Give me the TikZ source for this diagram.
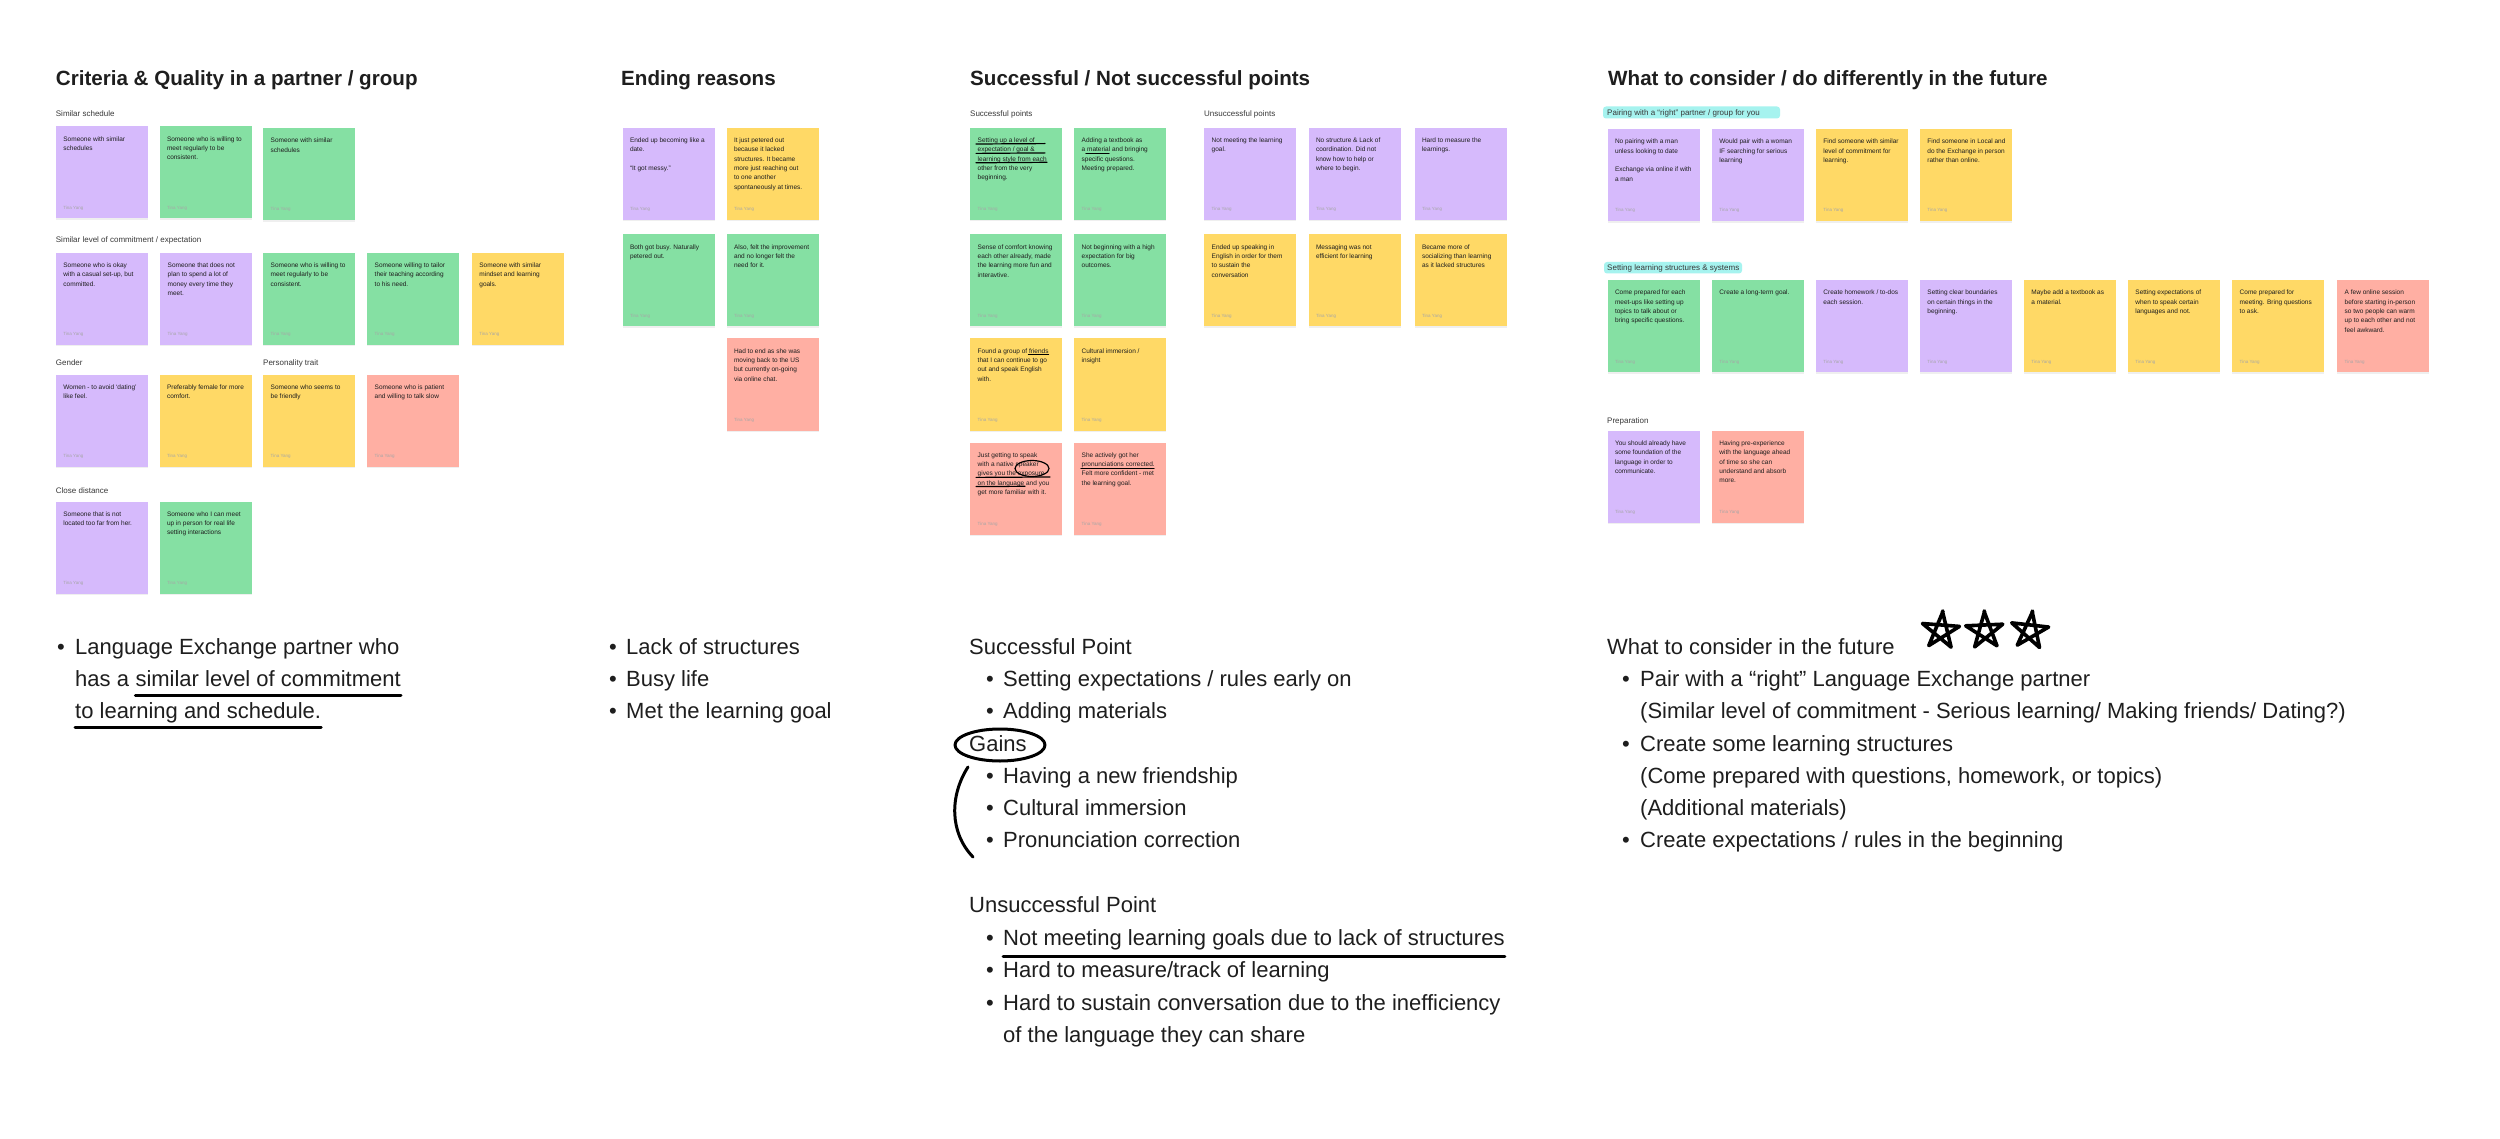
\documentclass[tikz,border=0pt]{standalone}
\usepackage{fontspec}
\setmainfont{Liberation Sans}
\usetikzlibrary{shadows,calc}
\definecolor{stviolet}{HTML}{D6BAFC}
\definecolor{stgreen}{HTML}{85E0A3}
\definecolor{styellow}{HTML}{FFD966}
\definecolor{stred}{HTML}{FFAFA3}
\definecolor{hlcyan}{HTML}{A6F3EF}
\definecolor{inkdark}{HTML}{1E1E1E}
\newcommand\stickynote[5]{%
  \node[sticky,fill=#4] (#1) at (#2,#3) {};
  \node[notetext] (#1t) at ([xshift=7.5pt,yshift=-10pt]#1.north west) {#5};
  \node[noteauthor] (#1a) at ([xshift=7.5pt,yshift=-83pt]#1.north west) {Tina Yang};
}
\begin{document}
\begin{tikzpicture}[x=1pt,y=-1pt,
  sticky/.style={rectangle,minimum width=92pt,minimum height=92pt,inner sep=0pt,anchor=north west,
    drop shadow={shadow xshift=0pt,shadow yshift=-1.5pt,opacity=0.12}},
  notetext/.style={anchor=north west,inner sep=0pt,align=left,font=\fontsize{6.5}{9.3}\selectfont,text=inkdark},
  noteauthor/.style={anchor=base west,inner sep=0pt,font=\fontsize{4.5}{5}\selectfont,text=black!35},
  sectitle/.style={anchor=base west,inner sep=0pt,font=\fontsize{20.6}{24}\selectfont\bfseries,text=inkdark},
  grplabel/.style={anchor=base west,inner sep=0pt,font=\fontsize{8}{9}\selectfont,text=black!78},
  body/.style={anchor=base west,inner sep=0pt,font=\fontsize{22}{26}\selectfont,text=inkdark},
  bul/.style={anchor=base west,inner sep=0pt,font=\fontsize{22}{26}\selectfont,text=inkdark},
  ink/.style={line width=1.2pt,black,line cap=round,line join=round},
  thickink/.style={line width=3pt,black,line cap=round,line join=round},
]
\useasboundingbox (0,0) rectangle (2500,1139);
\fill[white] (0,0) rectangle (2500,1139);

% ---------- titles ----------
\node[sectitle] (t1) at (55.7,86) {Criteria \& Quality in a partner / group};
\node[sectitle] (t2) at (621,86) {Ending reasons};
\node[sectitle] (t3) at (970,86) {Successful / Not successful points};
\node[sectitle] (t4) at (1608,86) {What to consider / do differently in the future};

% ---------- Criteria ----------
\node[grplabel] (l1) at (55.7,117) {Similar schedule};
\stickynote{a1}{55.7}{126.3}{stviolet}{Someone with similar\\schedules}
\stickynote{a2}{159.3}{126.3}{stgreen}{Someone who is willing to\\meet regularly to be\\consistent.}
\stickynote{a3}{263}{128}{stgreen}{Someone with similar\\schedules}

\node[grplabel] (l2) at (55.7,243) {Similar level of commitment / expectation};
\stickynote{a4}{55.7}{252.7}{stviolet}{Someone who is okay\\with a casual set-up, but\\committed.}
\stickynote{a5}{160}{252.7}{stviolet}{Someone that does not\\plan to spend a lot of\\money every time they\\meet.}
\stickynote{a6}{263}{252.7}{stgreen}{Someone who is willing to\\meet regularly to be\\consistent.}
\stickynote{a7}{367}{252.7}{stgreen}{Someone willing to tailor\\their teaching according\\to his need.}
\stickynote{a8}{471.7}{252.7}{styellow}{Someone with similar\\mindset and learning\\goals.}

\node[grplabel] (l3) at (55.7,366) {Gender};
\node[grplabel] (l4) at (263,366) {Personality trait};
\stickynote{a9}{55.7}{374.7}{stviolet}{Women - to avoid `dating'\\like feel.}
\stickynote{a10}{159.3}{374.7}{styellow}{Preferably female for more\\comfort.}
\stickynote{a11}{263}{374.7}{styellow}{Someone who seems to\\be friendly}
\stickynote{a12}{367}{374.7}{stred}{Someone who is patient\\and willing to talk slow}

\node[grplabel] (l5) at (55.7,493) {Close distance};
\stickynote{a13}{55.7}{501.3}{stviolet}{Someone that is not\\located too far from her.}
\stickynote{a14}{159.3}{501.3}{stgreen}{Someone who I can meet\\up in person for real life\\setting interactions}

% ---------- Ending reasons ----------
\stickynote{e1}{622.3}{127.7}{stviolet}{Ended up becoming like a\\date.\\[9.3pt]``It got messy.''}
\stickynote{e2}{726.3}{127.7}{styellow}{It just petered out\\because it lacked\\structures. It became\\more just reaching out\\to one another\\spontaneously at times.}
\stickynote{e3}{622.3}{234.3}{stgreen}{Both got busy. Naturally\\petered out.}
\stickynote{e4}{726.3}{234.3}{stgreen}{Also, felt the improvement\\and no longer felt the\\need for it.}
\stickynote{e5}{726.3}{338.3}{stred}{Had to end as she was\\moving back to the US\\but currently on-going\\via online chat.}

% ---------- Successful / Not ----------
\node[grplabel] (l6) at (970,117) {Successful points};
\node[grplabel] (l7) at (1204,117) {Unsuccessful points};
\stickynote{s1}{970}{127.7}{stgreen}{Setting up a level of\\expectation / goal \&\\learning style from each\\other from the very\\beginning.}
\stickynote{s2}{1074}{127.7}{stgreen}{Adding a textbook as\\a material and bringing\\specific questions.\\Meeting prepared.}
\stickynote{s3}{970}{234.3}{stgreen}{Sense of comfort knowing\\each other already, made\\the learning more fun and\\interavtive.}
\stickynote{s4}{1074}{234.3}{stgreen}{Not beginning with a high\\expectation for big\\outcomes.}
\stickynote{s5}{970}{338.3}{styellow}{Found a group of friends\\that I can continue to go\\out and speak English\\with.}
\stickynote{s6}{1074}{338.3}{styellow}{Cultural immersion /\\insight}
\stickynote{s7}{970}{442.3}{stred}{Just getting to speak\\with a native speaker\\gives you the exposure\\on the language and you\\get more familiar with it.}
\stickynote{s8}{1074}{442.3}{stred}{She actively got her\\pronunciations corrected.\\Felt more confident - met\\the learning goal.}

\stickynote{u1}{1204}{127.7}{stviolet}{Not meeting the learning\\goal.}
\stickynote{u2}{1308.3}{127.7}{stviolet}{No structure \& Lack of\\coordination. Did not\\know how to help or\\where to begin.}
\stickynote{u3}{1414.3}{127.7}{stviolet}{Hard to measure the\\learnings.}
\stickynote{u4}{1204}{234.3}{styellow}{Ended up speaking in\\English in order for them\\to sustain the\\conversation}
\stickynote{u5}{1308.3}{234.3}{styellow}{Messaging was not\\efficient for learning}
\stickynote{u6}{1414.3}{234.3}{styellow}{Became more of\\socializing than learning\\as it lacked structures}

% hand-drawn marks on notes
\draw[ink] (976,144) -- (1045,143.6);
\draw[ink] (976,153.4) -- (1045,152.9);
\draw[ink] (976,162.8) -- (1047,162.3);
\draw[ink] (1086,153.6) -- (1109,153.6);
\draw[ink] (1028.5,354.6) -- (1048.5,354.6);
\draw[ink] (976,477.4) -- (1050,477);
\draw[ink] (976,486.6) -- (1025,486.3);
\draw[ink] (1032,468.5) ellipse [x radius=17pt, y radius=8pt];
\draw[ink] (1081,468.2) -- (1154,468.2);

% ---------- What to consider ----------
\fill[hlcyan, rounded corners=3pt] (1603,106.5) rectangle (1780,118.5);
\node[grplabel] (l8) at (1607,116) {Pairing with a ``right'' partner / group for you};
\stickynote{f1}{1607.3}{129}{stviolet}{No pairing with a man\\unless looking to date\\[9.3pt]Exchange via online if with\\a man}
\stickynote{f2}{1711.7}{129}{stviolet}{Would pair with a woman\\IF searching for serious\\learning}
\stickynote{f3}{1815.7}{129}{styellow}{Find someone with similar\\level of commitment for\\learning.}
\stickynote{f4}{1919.7}{129}{styellow}{Find someone in Local and\\do the Exchange in person\\rather than online.}

\fill[hlcyan, rounded corners=3pt] (1604,262) rectangle (1742,273.5);
\node[grplabel] (l9) at (1607,270.5) {Setting learning structures \& systems};
\stickynote{g1}{1607.3}{280}{stgreen}{Come prepared for each\\meet-ups like setting up\\topics to talk about or\\bring specific questions.}
\stickynote{g2}{1711.7}{280}{stgreen}{Create a long-term goal.}
\stickynote{g3}{1815.7}{280}{stviolet}{Create homework / to-dos\\each session.}
\stickynote{g4}{1919.7}{280}{stviolet}{Setting clear boundaries\\on certain things in the\\beginning.}
\stickynote{g5}{2023.7}{280}{styellow}{Maybe add a textbook as\\a material.}
\stickynote{g6}{2127.7}{280}{styellow}{Setting expectations of\\when to speak certain\\languages and not.}
\stickynote{g7}{2232}{280}{styellow}{Come prepared for\\meeting. Bring questions\\to ask.}
\stickynote{g8}{2337}{280}{stred}{A few online session\\before starting in-person\\so two people can warm\\up to each other and not\\feel awkward.}

\node[grplabel] (l10) at (1607,423) {Preparation};
\stickynote{p1}{1607.3}{430.7}{stviolet}{You should already have\\some foundation of the\\language in order to\\communicate.}
\stickynote{p2}{1711.7}{430.7}{stred}{Having pre-experience\\with the language ahead\\of time so she can\\understand and absorb\\more.}

% ---------- bottom summary: criteria ----------
\node[bul] (c0b) at (57,654) {•};
\node[body] (c1) at (75,654) {Language Exchange partner who};
\node[body] (c2a) at (75,686) {has a};
\node[body, anchor=base west] (c2b) at ([xshift=6.1pt]c2a.base east) {similar level of commitment};
\node[body] (c3) at (75,718) {to learning and schedule.};
\draw[thickink] ([yshift=-9pt]c2b.base west) -- ([yshift=-9pt]c2b.base east);
\draw[thickink] ([yshift=-9pt]c3.base west) -- ([yshift=-9pt]c3.base east);

% ---------- bottom summary: ending ----------
\node[bul] (d1b) at (609,654) {•};
\node[body] (d1) at (626,654) {Lack of structures};
\node[bul] (d2b) at (609,686) {•};
\node[body] (d2) at (626,686) {Busy life};
\node[bul] (d3b) at (609,718) {•};
\node[body] (d3) at (626,718) {Met the learning goal};

% ---------- bottom summary: successful ----------
\node[body] (sp) at (969,654) {Successful Point};
\node[bul] (sp1b) at (986,686) {•};
\node[body] (sp1) at (1003,686) {Setting expectations / rules early on};
\node[bul] (sp2b) at (986,718) {•};
\node[body] (sp2) at (1003,718) {Adding materials};
\node[body] (gains) at (969,751) {Gains};
\draw[thickink] (1000,745) ellipse [x radius=45pt, y radius=16pt];
\node[bul] (gn1b) at (986,783) {•};
\node[body] (gn1) at (1003,783) {Having a new friendship};
\node[bul] (gn2b) at (986,815) {•};
\node[body] (gn2) at (1003,815) {Cultural immersion};
\node[bul] (gn3b) at (986,847) {•};
\node[body] (gn3) at (1003,847) {Pronunciation correction};
\coordinate (brA) at (968,767);
\coordinate (brB) at (973,857);
\draw[thickink] (brA) .. controls (950,795) and (949,832) .. (brB);
\node[body] (up) at (969,912) {Unsuccessful Point};
\node[bul] (up1b) at (986,945) {•};
\node[body] (up1) at (1003,945) {Not meeting learning goals due to lack of structures};
\draw[thickink] ([yshift=-11pt]up1.base west) -- ([yshift=-11pt]up1.base east);
\node[bul] (up2b) at (986,977) {•};
\node[body] (up2) at (1003,977) {Hard to measure/track of learning};
\node[bul] (up3b) at (986,1010) {•};
\node[body] (up3) at (1003,1010) {Hard to sustain conversation due to the inefficiency};
\node[body] (up4) at (1003,1042) {of the language they can share};

% ---------- bottom summary: future ----------
\node[body] (wf) at (1607,654) {What to consider in the future};
\node[bul] (wf1b) at (1622,686) {•};
\node[body] (wf1) at (1640,686) {Pair with a “right” Language Exchange partner};
\node[body] (wf2) at (1640,718) {(Similar level of commitment - Serious learning/ Making friends/ Dating?)};
\node[bul] (wf3b) at (1622,751) {•};
\node[body] (wf3) at (1640,751) {Create some learning structures};
\node[body] (wf4) at (1640,783) {(Come prepared with questions, homework, or topics)};
\node[body] (wf5) at (1640,815) {(Additional materials)};
\node[bul] (wf6b) at (1622,847) {•};
\node[body] (wf6) at (1640,847) {Create expectations / rules in the beginning};

% hand-drawn stars
\foreach \cx/\rot in {1941/4,1985/-3,2030/6}{
  \draw[line width=3.6pt,black,line join=round,line cap=round]
    ($(\cx,631)+(-90+\rot:20)$) -- ($(\cx,631)+(54+\rot:19)$) -- ($(\cx,631)+(198+\rot:20)$)
    -- ($(\cx,631)+(-18+\rot:19)$) -- ($(\cx,631)+(126+\rot:19)$) -- ($(\cx,631)+(-88+\rot:20)$);
}
\end{tikzpicture}
\end{document}
